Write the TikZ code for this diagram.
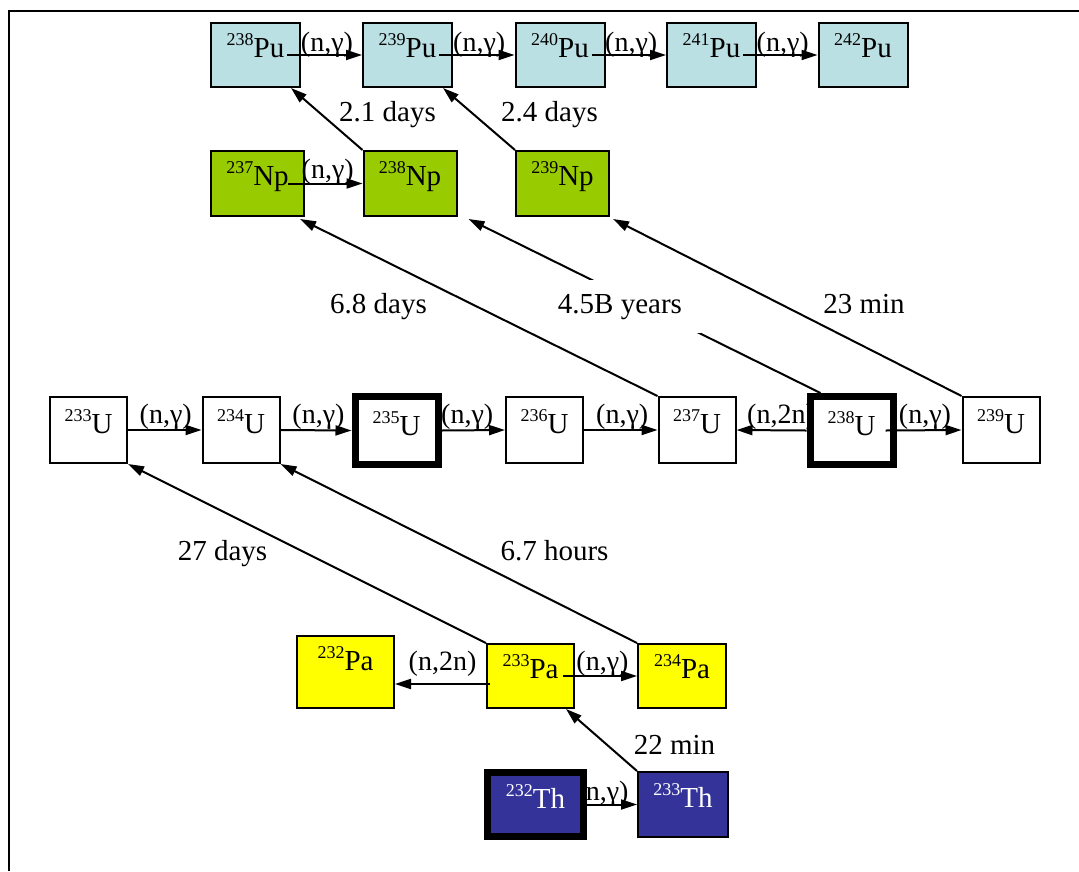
\documentclass[tikz,border=0pt]{standalone}
\usepackage{fontspec}
\setmainfont{Liberation Serif}
\usetikzlibrary{arrows.meta,backgrounds}
\definecolor{pucol}{RGB}{187,224,227}
\definecolor{npcol}{RGB}{153,204,0}
\definecolor{pacol}{RGB}{255,255,0}
\definecolor{thcol}{RGB}{51,51,153}
\newcommand{\bfnt}{\fontsize{29}{34}\selectfont}
\newcommand{\rfnt}{\fontsize{28}{33}\selectfont}
\newcommand{\isot}[2]{{\fontsize{18}{20}\selectfont\raisebox{12pt}{#1}}#2}
\begin{document}
\begin{tikzpicture}[x=1pt,y=-1pt,
  bx/.style={draw, line width=2pt, inner sep=0pt, font=\bfnt},
  heavy/.style={line width=7pt},
  pubox/.style={bx, fill=pucol, minimum width=89pt, text height=34pt, text depth=30pt},
  npbox/.style={bx, fill=npcol, minimum width=93pt, text height=34pt, text depth=31pt},
  ubox/.style={bx, fill=white, minimum width=77pt, text height=36pt, text depth=30pt},
  uhbox/.style={bx, heavy, fill=white, minimum width=83pt, text height=38.5pt, text depth=29.5pt},
  pabox/.style={bx, fill=pacol, text height=34pt, text depth=30pt},
  thbox/.style={bx, fill=thcol, text=white, text height=35pt, text depth=30pt},
  arr/.style={line width=2pt, -{Triangle[length=16pt,width=10pt]}},
  rl/.style={midway, anchor=base, font=\rfnt, inner sep=0pt},
  dl/.style={anchor=base, font=\bfnt, inner sep=0pt},
]
\useasboundingbox (0,0) rectangle (1079,871);
\draw[line width=2pt] (8.5,871) -- (8.5,10.5) -- (1079,10.5);

% Pu row
\node[pubox] (pu238) at (255.5,55) {\isot{238}{Pu}};
\node[pubox] (pu239) at (407.5,55) {\isot{239}{Pu}};
\node[pubox] (pu240) at (560,55) {\isot{240}{Pu}};
\node[pubox] (pu241) at (711.5,55) {\isot{241}{Pu}};
\node[pubox] (pu242) at (863,55) {\isot{242}{Pu}};
% Np row
\node[npbox] (np237) at (257.5,183.5) {\isot{237}{Np}};
\node[npbox] (np238) at (410,183.5) {\isot{238}{Np}};
\node[npbox] (np239) at (562.5,183.5) {\isot{239}{Np}};
% U row
\node[ubox] (u233) at (88.5,430) {\isot{233}{U}};
\node[ubox] (u234) at (241,430) {\isot{234}{U}};
\node[uhbox] (u235) at (396.5,430.5) {\isot{235}{U}};
\node[ubox] (u236) at (544.5,430) {\isot{236}{U}};
\node[ubox] (u237) at (697,430) {\isot{237}{U}};
\node[uhbox] (u238) at (851.5,430.5) {\isot{238}{U}};
\node[ubox] (u239) at (1001,430) {\isot{239}{U}};
% Pa row
\node[pabox, minimum width=97pt, text depth=38pt] (pa232) at (345.5,672) {\isot{232}{Pa}};
\node[pabox, minimum width=87pt] (pa233) at (530.5,676) {\isot{233}{Pa}};
\node[pabox, minimum width=88pt] (pa234) at (682,676) {\isot{234}{Pa}};
% Th row
\node[thbox, heavy, minimum width=96pt, text height=35.5pt, text depth=28.5pt] (th232) at (535.5,804.5) {\isot{232}{Th}};
\node[thbox, minimum width=90pt] (th233) at (683,804.5) {\isot{233}{Th}};

% reactions hidden partly behind boxes
\begin{scope}[on background layer]
\draw[arr] (u238.west) -- node[rl, xshift=9.5pt, yshift=7pt] (r2n) {(n,2n)} (u237.east);
\draw[arr] (th232.east) -- node[rl, xshift=-9.5pt, yshift=4pt] (rth) {(n,γ)} (th233.west);
\end{scope}

% Pu captures
\draw[arr] ([xshift=31.5pt]pu238.center) -- node[rl, xshift=2.5pt, yshift=3.5pt] (rp1) {(n,γ)} (pu239.west);
\draw[arr] ([xshift=31.5pt]pu239.center) -- node[rl, xshift=2.5pt, yshift=3.5pt] (rp2) {(n,γ)} (pu240.west);
\draw[arr] ([xshift=31.5pt]pu240.center) -- node[rl, xshift=2.5pt, yshift=3.5pt] (rp3) {(n,γ)} (pu241.west);
\draw[arr] ([xshift=31.5pt]pu241.center) -- node[rl, xshift=2.5pt, yshift=3.5pt] (rp4) {(n,γ)} (pu242.west);
% Np capture
\draw[arr] ([xshift=30.5pt]np237.center) -- node[rl, xshift=2.5pt, yshift=5pt] (rn1) {(n,γ)} (np238.west);
% U captures
\draw[arr] (u233.east) -- node[rl, xshift=1pt, yshift=6.5pt] (ru1) {(n,γ)} (u234.west);
\draw[arr] (u234.east) -- node[rl, xshift=2.5pt, yshift=6.5pt] (ru2) {(n,γ)} (u235.west);
\draw[arr] (u235.east) -- node[rl, xshift=-6pt, yshift=6.5pt] (ru3) {(n,γ)} (u236.west);
\draw[arr] (u236.east) -- node[rl, xshift=1.5pt, yshift=6.5pt] (ru4) {(n,γ)} (u237.west);
\draw[arr] ([xshift=34pt]u238.center) -- node[rl, xshift=1.5pt, yshift=6.5pt] (ru5) {(n,γ)} (u239.west);
% Pa reactions
\draw[arr] ([xshift=32.5pt]pa233.center) -- node[rl, xshift=2.5pt, yshift=6pt] (ra1) {(n,γ)} (pa234.west);
\draw[arr] ([shift={(4,8)}]pa233.west) -- node[rl, yshift=14pt] (ra2) {(n,2n)} ([yshift=-12pt]pa232.east);

% decays
\draw[arr] (np238.north west) -- ([xshift=-10pt]pu238.south east);
\draw[arr] (np239.north west) -- ([xshift=-10pt]pu239.south east);
\draw[arr] (u237.north west) -- ([shift={(-5,2)}]np237.south east);
\draw[arr] ([xshift=14pt]u238.north west) -- ([shift={(11,2)}]np238.south east);
\draw[arr] (u239.north west) -- ([shift={(3,2)}]np239.south east);
\draw[arr] (pa233.north west) -- (u233.south east);
\draw[arr] (pa234.north west) -- (u234.south east);
\draw[arr] (th233.north west) -- ([xshift=-9pt]pa233.south east);

% decay labels
\node[dl] (l21) at (387.5,121) {2.1 days};
\node[dl] (l24) at (549.5,121) {2.4 days};
\node[dl] (l68) at (378.5,313) {6.8 days};
\node[dl, fill=white, inner xsep=19pt, inner ysep=13.5pt] (l45) at (620,313) {4.5B years};
\node[dl] (l23) at (864,313) {23 min};
\node[dl] (l27) at (222.5,560) {27 days};
\node[dl] (l67) at (554.5,560) {6.7 hours};
\node[dl] (l22) at (674.5,754) {22 min};
\end{tikzpicture}
\end{document}
